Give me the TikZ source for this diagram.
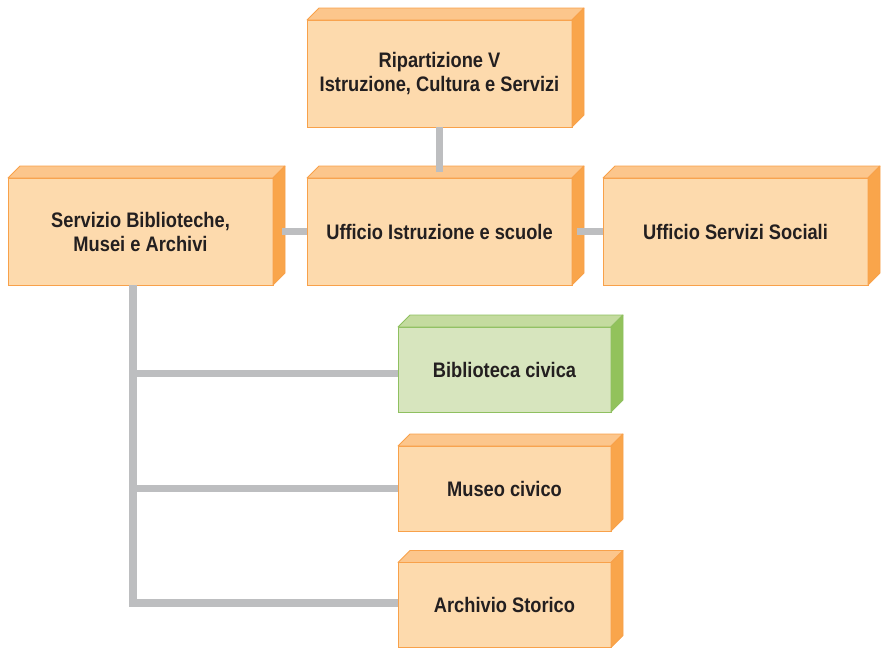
\documentclass[tikz,border=0pt]{standalone}
\usepackage{fontspec}
\setmainfont{Liberation Sans}[FakeStretch=0.87]
\usetikzlibrary{positioning}

\definecolor{orfront}{HTML}{FDDAAD}
\definecolor{ortop}{HTML}{FCC68C}
\definecolor{orside}{HTML}{F9A54B}
\definecolor{orline}{HTML}{F8A14A}
\definecolor{grfront}{HTML}{D7E5BE}
\definecolor{grtop}{HTML}{C4DB9F}
\definecolor{grside}{HTML}{92C25B}
\definecolor{grline}{HTML}{8FC060}
\definecolor{conncol}{HTML}{BDBEC0}
\definecolor{txtcol}{HTML}{231F20}

\begin{document}
\begin{tikzpicture}[x=1pt, y=1pt,
  box/.style = {draw=orline, fill=orfront, line width=0.8pt, outer sep=0pt, align=center,
    text=txtcol, font=\fontsize{21}{24}\selectfont\bfseries},
  big/.style = {box, minimum width=265pt, minimum height=107pt},
  small/.style = {box, minimum width=213pt, minimum height=85pt},
  conn/.style = {draw=conncol, line width=7.5pt}]
\useasboundingbox (0,0) rectangle (883,-649);
% boxes
\node (rip) [big] at (439.5,-73.5) {Ripartizione V\\Istruzione, Cultura e Servizi};
\node (sba) [big] at (140.5,-231.5) {Servizio Biblioteche,\\Musei e Archivi};
\node (uis) [big] at (439.5,-231.5) {Ufficio Istruzione e scuole};
\node (uss) [big] at (735.5,-231.5) {Ufficio Servizi Sociali};
\node (bib) [small, draw=grline, fill=grfront] at (504.5,-369.5) {Biblioteca civica};
\node (mus) [small] at (504.5,-488.5) {Museo civico};
\node (arc) [small] at (504.5,-605) {Archivio Storico};
% depth
\foreach \n/\t/\s/\l in {rip/ortop/orside/orline, sba/ortop/orside/orline, uis/ortop/orside/orline,
    uss/ortop/orside/orline, bib/grtop/grside/grline, mus/ortop/orside/orline, arc/ortop/orside/orline} {
  \filldraw[fill=\t, draw=\l, line width=0.8pt, line join=round]
    (\n.north west) -- ++(12,12) -- ([shift={(12,12)}]\n.north east) -- (\n.north east) -- cycle;
  \filldraw[fill=\s, draw=\l, line width=0.8pt, line join=round]
    (\n.north east) -- ++(12,12) -- ([shift={(12,12)}]\n.south east) -- (\n.south east) -- cycle;
}
% connectors
\draw[conn] (rip.south) -- ([yshift=6]uis.north);
\draw[conn] ([xshift=9]sba.east) -- (uis.west);
\draw[conn] ([xshift=5]uis.east) -- (uss.west);
\draw[conn] ([xshift=-7.5]sba.south) |- ([yshift=-4]bib.west);
\draw[conn] ([xshift=-7.5]sba.south) |- (mus.west);
\draw[conn] ([xshift=-7.5]sba.south) |- ([yshift=2]arc.west);
\end{tikzpicture}
\end{document}
